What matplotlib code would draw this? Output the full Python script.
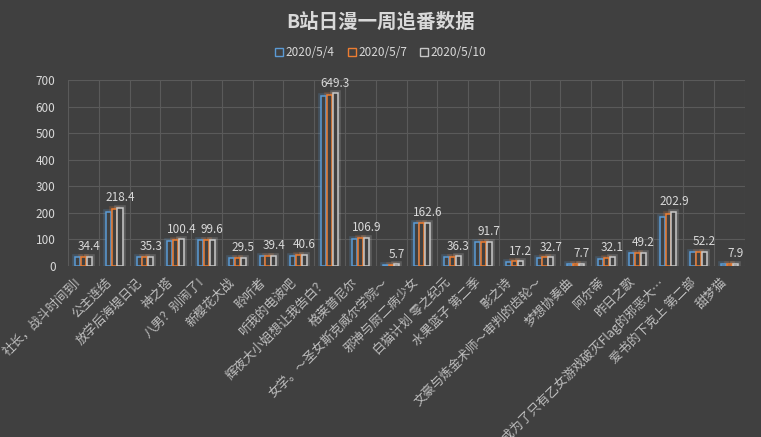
import numpy as np
import matplotlib.pyplot as plt

plt.rcParams['font.family'] = ['Noto Sans CJK SC', 'DejaVu Sans']

# anime titles (x axis)
titles = ['社长，战斗时间到!', '公主连结', '放学后海堤日记', '神之塔', '八男？别闹了!',
          '新樱花大战', '聆听者', '听我的电波吧', '辉夜大小姐想让我告白？', '格莱普尼尔',
          '女学。～圣女斯克威尔学院～', '邪神与厨二病少女', '白猫计划 零之纪元', '水果篮子 第二季',
          '影之诗', '文豪与炼金术师～审判的齿轮～', '梦想协奏曲', '阿尔蒂', '昨日之歌',
          '转生成为了只有乙女游戏破灭Flag的邪恶大…', '爱书的下克上 第二部', '甜梦猫']
dates = ['2020/5/4', '2020/5/7', '2020/5/10']
may4 = [34.0, 205, 35.0, 93, 97, 29.0, 38, 36, 640, 101, 5.5, 162, 33, 91, 16.5, 30, 7.3, 28, 48, 186, 52, 7.5]
may7 = [34.2, 214, 35.1, 98, 99, 29.2, 39, 40, 645, 106, 5.6, 162.2, 35, 91.5, 17.0, 32, 7.6, 31, 49, 196, 52.1, 7.8]
may10 = [34.4, 218.4, 35.3, 100.4, 99.6, 29.5, 39.4, 40.6, 649.3, 106.9, 5.7, 162.6, 36.3, 91.7, 17.2, 32.7, 7.7, 32.1, 49.2, 202.9, 52.2, 7.9]

bg = '#404040'
txt = '#d9d9d9'
colors = ['#5b9bd5', '#ed7d31', '#c8c8c8']

fig = plt.figure(figsize=(7.61, 4.37), dpi=100, facecolor=bg)
ax = fig.add_axes([68/761, 1-266/437, 677/761, 186/437], facecolor=bg)

x = np.arange(len(titles))
w = 0.165
offs = [-0.19, 0, 0.19]
for vals, c, o, lab in zip([may4, may7, may10], colors, offs, dates):
    # soft glow behind the outline
    ax.bar(x+o, vals, w, facecolor='none', edgecolor=c, linewidth=4, alpha=0.22, zorder=2)
    ax.bar(x+o, vals, w, facecolor=bg, edgecolor=c, linewidth=1.1, zorder=3, label=lab)

for xi, v in zip(x, may10):
    ax.text(xi+offs[2], v+14, f'{v}', ha='center', va='bottom', color=txt, fontsize=8.5, zorder=4)

ax.set_xlim(-0.5, len(titles)-0.5)
ax.set_ylim(0, 700)
ax.set_yticks(range(0, 701, 100))
ax.set_xticks(x)
ax.set_xticklabels(titles, rotation=45, ha='right', va='top', fontsize=9, color='#bfbfbf')
ax.set_xticks(np.arange(-0.5, len(titles), 1), minor=True)
ax.tick_params(axis='x', which='both', length=0, pad=7)
ax.tick_params(axis='y', length=0, colors=txt, labelsize=8.5, pad=9)
ax.grid(axis='y', color='#5a5a5a', linewidth=0.8, zorder=0)
ax.grid(axis='x', which='minor', color='#5a5a5a', linewidth=0.8, zorder=0)
ax.grid(axis='x', which='major', visible=False)
for s in ax.spines.values():
    s.set_visible(False)

fig.text(0.5, 1-22/437, 'B站日漫一周追番数据', ha='center', va='center',
         fontsize=14, fontweight='bold', color=txt)

handles = [plt.Line2D([], [], marker='s', linestyle='none', markersize=6,
                      markerfacecolor='none', markeredgecolor=c, markeredgewidth=1) for c in colors]
fig.legend(handles, dates, loc='center', bbox_to_anchor=(0.5, 1-53/437), ncol=3, frameon=False,
           fontsize=8.5, labelcolor=txt, handlelength=0.7, handletextpad=0.2, columnspacing=1.1)

fig.savefig('out.png', facecolor=bg)
